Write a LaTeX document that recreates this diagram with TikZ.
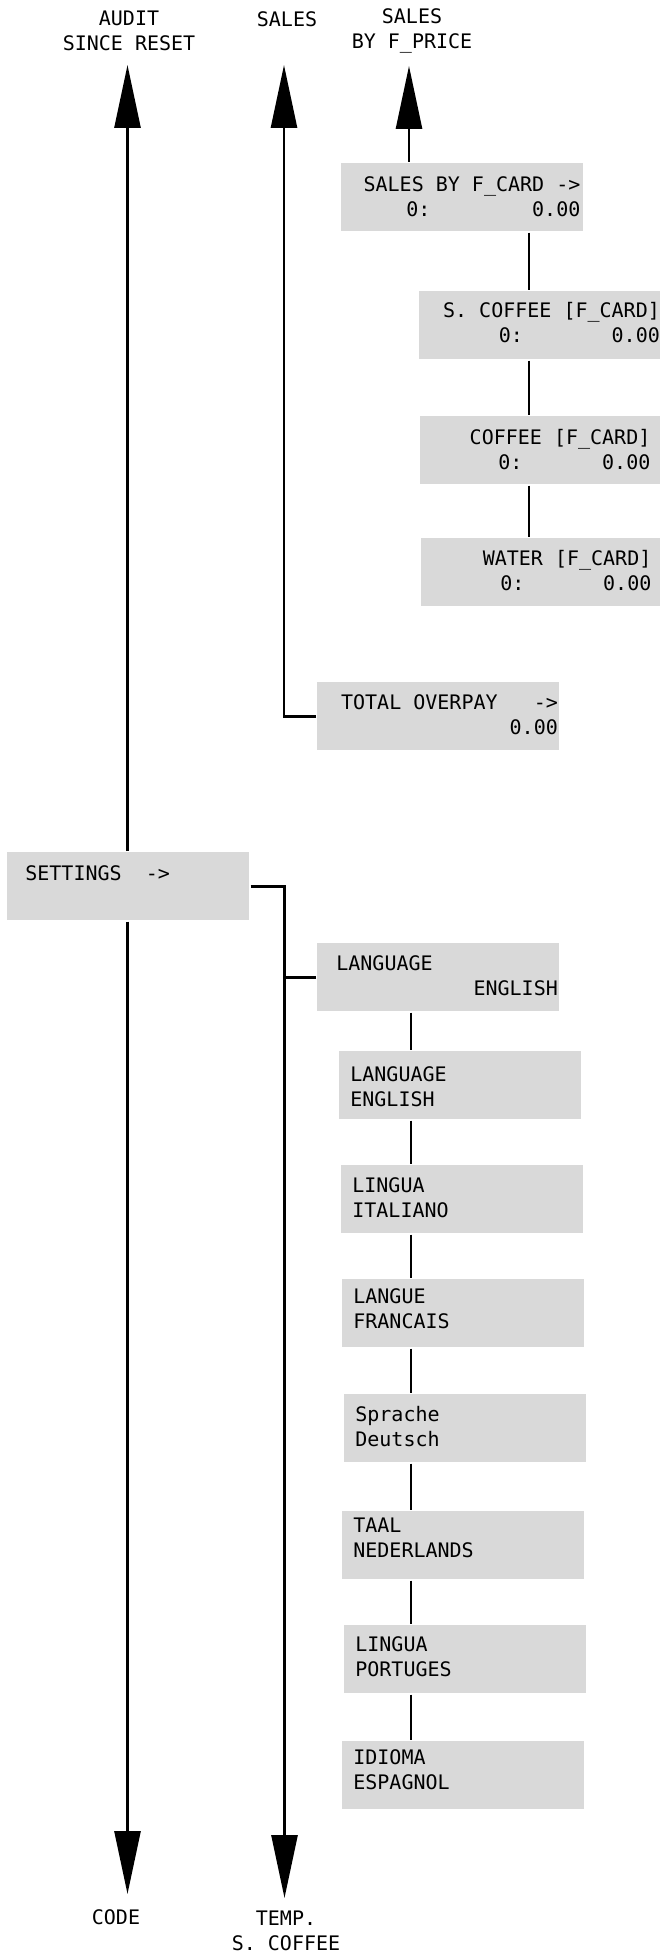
\documentclass[tikz,border=0pt]{standalone}
\usepackage{fontspec}
\usetikzlibrary{arrows.meta}
\newfontfamily\lcdfont{DejaVu Sans Mono}
\newcommand\lcdtype{\lcdfont\fontsize{20}{25}\selectfont\parindent=0pt\frenchspacing}
\definecolor{lcdgray}{RGB}{217,217,217}
\begin{document}
\begin{tikzpicture}[x=1pt, y=-1pt, line width=2.7pt, >={Triangle[width=26pt,length=63pt]},
        lcd/.style={fill=lcdgray, anchor=north west, minimum height=68pt, text width=220pt,
            inner xsep=11pt, inner ysep=0pt, text depth=28pt, font=\lcdtype,
            execute at begin node={\spaceskip=0pt\xspaceskip=0pt}},
        menulabel/.style={inner sep=0pt, align=center, font=\lcdtype}]
    \useasboundingbox (0,0) rectangle (660,1953);
    \node[menulabel] (audit) at (129,31) {AUDIT\\SINCE RESET};
    \node[menulabel] (sales) at (287,19) {SALES};
    \node[menulabel] (fprice) at (412,31) {SALES\\BY F\_PRICE};
    \node[menulabel] (code) at (116,1917) {CODE};
    \node[menulabel] (temp) at (286,1930.5) {TEMP.\\S. COFFEE};
    \coordinate (audittip) at (127.5,65);
    \coordinate (salestip) at (284,65);
    \coordinate (pricetip) at (409,66);
    \coordinate (codetip) at (127.5,1894);
    \coordinate (temptip) at (284.5,1898);
    \coordinate (cardx) at (529,0);
    \coordinate (langx) at (411,0);
    % sales by card
    \node[lcd, text width=236pt, inner xsep=3pt, text depth=27pt] (card) at (340,162)
        {\hspace*{\fill}SALES BY F\_CARD ->\\\hspace*{62pt}0:\hfill 0.00};
    \node[lcd, text width=239pt, inner xsep=1.5pt, text depth=30pt] (scoffee) at (418,290)
        {\hspace*{\fill}S. COFFEE [F\_CARD]\\\hspace*{78pt}0:\hfill 0.00};
    \node[lcd, text width=218pt, inner xsep=12pt, text depth=27pt] (coffee) at (419,415)
        {\hspace*{\fill}COFFEE [F\_CARD]\\\hspace*{66pt}0:\hfill 0.00};
    \node[lcd, text width=218pt, inner xsep=12pt] (water) at (420,537)
        {\hspace*{\fill}WATER [F\_CARD]\\\hspace*{67pt}0:\hfill 0.00};
    \node[lcd, text width=239pt, inner xsep=1.5pt] (overpay) at (316,681)
        {\hspace*{\fill}TOTAL OVERPAY~~~->\\\hspace*{\fill}0.00};
    % settings and languages
    \node[lcd, text width=206pt, inner xsep=18pt, text depth=26pt] (settings) at (6,851) {SETTINGS~~->\\\mbox{}};
    \node[lcd, text width=239pt, inner xsep=1.5pt] (lang0) at (316,942)
        {\hspace*{17.5pt}LANGUAGE\\\hspace*{\fill}ENGLISH};
    \node[lcd, text depth=23pt] (lang1) at (338,1050) {LANGUAGE\\ENGLISH};
    \node[lcd] (lang2) at (340,1164) {LINGUA\\ITALIANO};
    \node[lcd, text depth=34pt] (lang3) at (341,1278) {LANGUE\\FRANCAIS};
    \node[lcd] (lang4) at (343,1393) {Sprache\\Deutsch};
    \node[lcd, text depth=40pt] (lang5) at (341,1510) {TAAL\\NEDERLANDS};
    \node[lcd, text depth=30pt] (lang6) at (343,1624) {LINGUA\\PORTUGES};
    \node[lcd, text depth=37pt] (lang7) at (341,1740) {IDIOMA\\ESPAGNOL};
    \draw[->] (settings.north -| audittip) -- (audittip);
    \draw[->] (settings.south -| codetip) -- (codetip);
    \draw[->] (overpay.west) -| (salestip);
    \draw[->] (card.north -| pricetip) -- (pricetip);
    \draw[->] (settings.east) -| (temptip);
    \draw (lang0.west) -- (lang0.west -| temptip);
    \draw (card.south -| cardx) -- (scoffee.north -| cardx);
    \draw (scoffee.south -| cardx) -- (coffee.north -| cardx);
    \draw (coffee.south -| cardx) -- (water.north -| cardx);
    \draw (lang0.south -| langx) -- (lang1.north -| langx);
    \draw (lang1.south -| langx) -- (lang2.north -| langx);
    \draw (lang2.south -| langx) -- (lang3.north -| langx);
    \draw (lang3.south -| langx) -- (lang4.north -| langx);
    \draw (lang4.south -| langx) -- (lang5.north -| langx);
    \draw (lang5.south -| langx) -- (lang6.north -| langx);
    \draw (lang6.south -| langx) -- (lang7.north -| langx);
\end{tikzpicture}
\end{document}
